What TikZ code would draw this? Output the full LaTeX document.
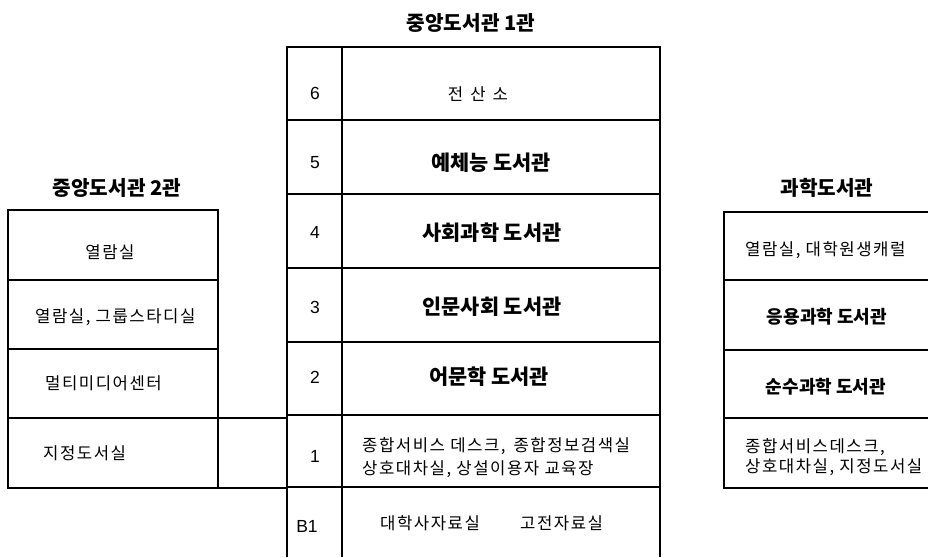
\documentclass[tikz,border=0pt]{standalone}
\usepackage{fontspec}
\setmainfont{Noto Sans CJK KR}
\newfontfamily\numfont{Liberation Sans}
\newfontfamily\spacedfont{Noto Sans CJK KR}[LetterSpace=9]
\begin{document}
\begin{tikzpicture}[x=1pt,y=-1pt,
  frame/.style={line width=2.8pt},
  divline/.style={line width=1.8pt},
  ttl/.style={font=\bfseries\fontsize{20.2}{22}\selectfont, inner sep=0pt},
  big/.style={font=\bfseries\fontsize{20.8}{23}\selectfont, inner sep=0pt},
  mid/.style={font=\bfseries\fontsize{18}{21}\selectfont, inner sep=0pt},
  small/.style={font=\spacedfont\fontsize{16.7}{20}\selectfont, inner sep=0pt},
  num/.style={font=\numfont\fontsize{17.5}{20}\selectfont, inner sep=0pt}]
\useasboundingbox (0,0) rectangle (928,557);
\fill[white] (0,0) rectangle (928,557);

% ---------- central building (1관) ----------
\coordinate (cTL) at (287,47);
\coordinate (cTR) at (660,47);
\coordinate (cBL) at (287,557);
\coordinate (cBR) at (660,557);
\coordinate (cNT) at (342,47);
\coordinate (cNB) at (342,557);
\foreach \y in {120,194,268,342,415,487}{
  \draw[divline] (287,\y) -- (660,\y);
}
\draw[frame] (cBL) -- (cTL) -- (cTR) -- (cBR);
\draw[frame] (cNT) -- (cNB);

\node[ttl] (t1) at (471,23) {중앙도서관 1관};

\node[num] (n6) at (315,93) {6};
\node[num] (n5) at (315,163) {5};
\node[num] (n4) at (315,232) {4};
\node[num] (n3) at (315,307) {3};
\node[num] (n2) at (315,377) {2};
\node[num] (n1) at (315,456) {1};
\node[num] (nb) at (307,526) {B1};

\node[small] (r6) at (478,94) {전\hspace{7pt}산\hspace{7pt}소};
\node[big] (r5) at (491,163) {예체능 도서관};
\node[big] (r4) at (492,233) {사회과학 도서관};
\node[big] (r3) at (492,307) {인문사회 도서관};
\node[big] (r2) at (489,377) {어문학 도서관};
\node[small, anchor=west] (r1a) at (362,446) {종합서비스 데스크,\hspace{8pt}종합정보검색실};
\node[small, anchor=west] (r1b) at (362,469) {상호대차실, 상설이용자 교육장};
\node[small, anchor=west] (rba) at (380,523) {대학사자료실};
\node[small, anchor=west] (rbb) at (520,523) {고전자료실};

% ---------- 중앙도서관 2관 ----------
\node[ttl] (t2) at (117,188) {중앙도서관 2관};
\foreach \y in {280,349,418}{
  \draw[divline] (8,\y) -- (218,\y);
}
\draw[frame] (8,210) rectangle (218,488);
\coordinate (lA) at (218,418);
\coordinate (lB) at (218,488);
\coordinate (bA) at (287,418);
\coordinate (bB) at (287,488);
\draw[divline] (lA) -- (bA);
\draw[divline] (lB) -- (bB);

\node[small] (l1) at (110,252) {열람실};
\node[small, anchor=west] (l2) at (35,317) {열람실, 그룹스타디실};
\node[small, anchor=west] (l3) at (45,383) {멀티미디어센터};
\node[small, anchor=west] (l4) at (43,453) {지정도서실};

% ---------- 과학도서관 ----------
\node[ttl] (t3) at (827,188) {과학도서관};
\foreach \y in {280,350,418}{
  \draw[divline] (724,\y) -- (928,\y);
}
\draw[frame] (928,212) -- (724,212) -- (724,488) -- (928,488);

\node[small, anchor=west] (s1) at (745,250) {열람실, 대학원생캐럴};
\node[mid] (s2) at (827,317) {응용과학 도서관};
\node[mid] (s3) at (826,387) {순수과학 도서관};
\node[small, anchor=west] (s4a) at (745,447) {종합서비스데스크,};
\node[small, anchor=west] (s4b) at (745,467) {상호대차실, 지정도서실};
\end{tikzpicture}
\end{document}
